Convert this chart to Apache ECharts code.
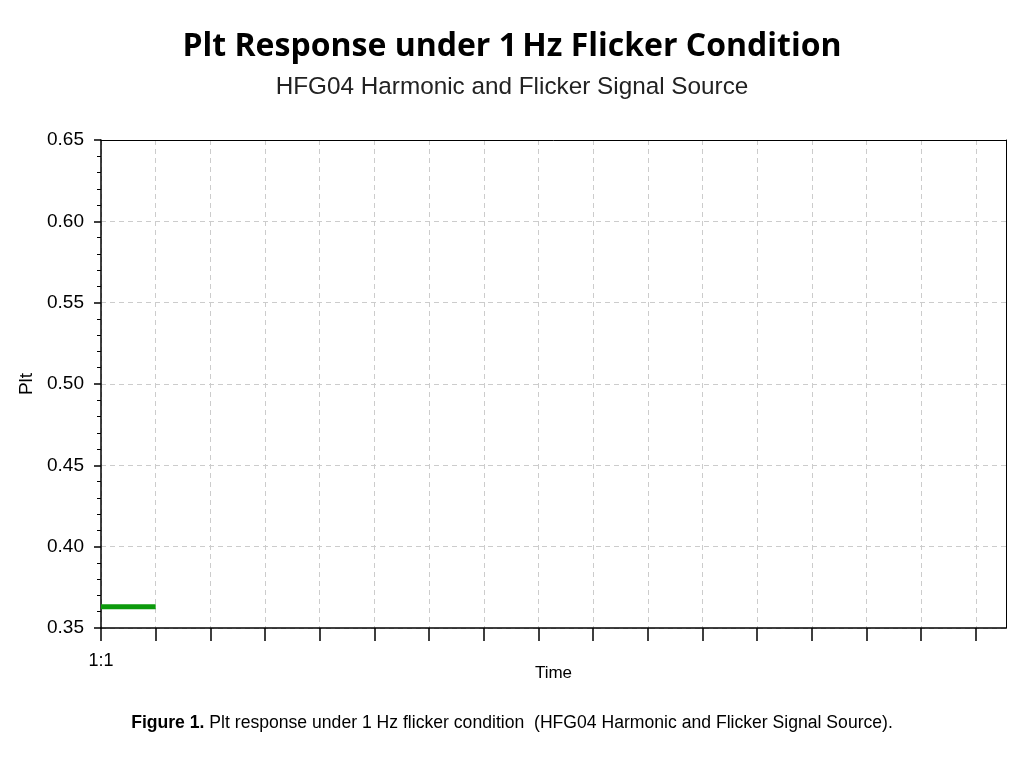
<!DOCTYPE html>
<html>
<head>
<meta charset="utf-8">
<script src="https://cdn.jsdelivr.net/npm/echarts@6/dist/echarts.min.js"></script>
<style>
  html, body { margin: 0; padding: 0; background: #fff; }
  #chart { width: 1024px; height: 768px; }
</style>
</head>
<body>
<div id="chart"></div>
<script>
// time steps (index) and the Plt value
const timeSteps = [0, 1];
const pltValues = [0.363, 0.363];
const timeLabels = ['1:1'];
const yTicks = [0.35, 0.40, 0.45, 0.50, 0.55, 0.60, 0.65];

const chart = echarts.init(document.getElementById('chart'));

const xMax = 16.55;

// border axes (top / right) drawn as plain black lines
const frameAxis = {
  axisLine: { show: true, onZero: false, lineStyle: { color: '#000', width: 1 } },
  axisTick: { show: false },
  axisLabel: { show: false },
  splitLine: { show: false }
};

const option = {
  backgroundColor: '#fff',
  animation: false,
  title: [
    {
      text: 'Plt Response under 1\u2009Hz Flicker Condition',
      left: 'center',
      top: 26,
      textStyle: { fontFamily: 'Open Sans', fontWeight: 'bold', fontSize: 32, color: '#000' }
    },
    {
      text: 'HFG04 Harmonic and Flicker Signal Source',
      left: 'center',
      top: 70,
      textStyle: { fontFamily: 'Liberation Sans', fontWeight: 'normal', fontSize: 24.3, color: '#222' }
    },
    {
      text: '{b|Figure 1.} Plt response under 1 Hz flicker condition  (HFG04 Harmonic and Flicker Signal Source).',
      left: 'center',
      top: 709,
      textStyle: {
        fontFamily: 'Liberation Sans', fontWeight: 'normal', fontSize: 17.6, color: '#000',
        rich: { b: { fontFamily: 'Liberation Sans', fontWeight: 'bold', fontSize: 17.6, color: '#000' } }
      }
    }
  ],
  grid: {
    left: 101, right: 18, top: 140, bottom: 140
  },
  xAxis: [
    {
      type: 'value',
      min: 0,
      max: xMax,
      interval: 1,
      name: 'Time',
      nameLocation: 'middle',
      nameGap: 37,
      nameMoveOverlap: false,
      nameTextStyle: { fontFamily: 'Liberation Sans', fontSize: 17, color: '#000' },
      axisLine: { show: true, lineStyle: { color: '#000', width: 1.5 } },
      axisTick: { show: true, length: 13, lineStyle: { color: '#000', width: 1.5 } },
      axisLabel: {
        fontFamily: 'Liberation Sans', fontSize: 18, color: '#000', margin: 24,
        showMaxLabel: false,
        formatter: v => (v === 0 ? timeLabels[0] : '')
      },
      splitLine: { show: true, lineStyle: { color: '#ccc', type: [5, 4], width: 1 } }
    },
    Object.assign({ type: 'value', position: 'top', min: 0, max: xMax }, frameAxis)
  ],
  yAxis: [
    {
      type: 'value',
      min: yTicks[0],
      max: yTicks[yTicks.length - 1],
      interval: 0.05,
      name: 'Plt',
      nameLocation: 'middle',
      nameGap: 65,
      nameMoveOverlap: false,
      nameTextStyle: { fontFamily: 'Liberation Sans', fontSize: 19, color: '#000' },
      axisLine: { show: true, lineStyle: { color: '#000', width: 1.5 } },
      axisTick: { show: true, length: 7, lineStyle: { color: '#000', width: 1.5 } },
      minorTick: { show: true, splitNumber: 5, length: 4, lineStyle: { color: '#000', width: 1 } },
      axisLabel: {
        fontFamily: 'Liberation Sans', fontSize: 19, color: '#000', margin: 17,
        formatter: v => v.toFixed(2)
      },
      splitLine: { show: true, lineStyle: { color: '#ccc', type: [5, 4], width: 1 } }
    },
    Object.assign({ type: 'value', position: 'right', min: yTicks[0], max: yTicks[yTicks.length - 1] }, frameAxis)
  ],
  series: [
    {
      type: 'line',
      data: timeSteps.map((t, i) => [t, pltValues[i]]),
      symbol: 'none',
      lineStyle: { color: '#0c9a0c', width: 5 }
    }
  ]
};

chart.setOption(option);
</script>
</body>
</html>
